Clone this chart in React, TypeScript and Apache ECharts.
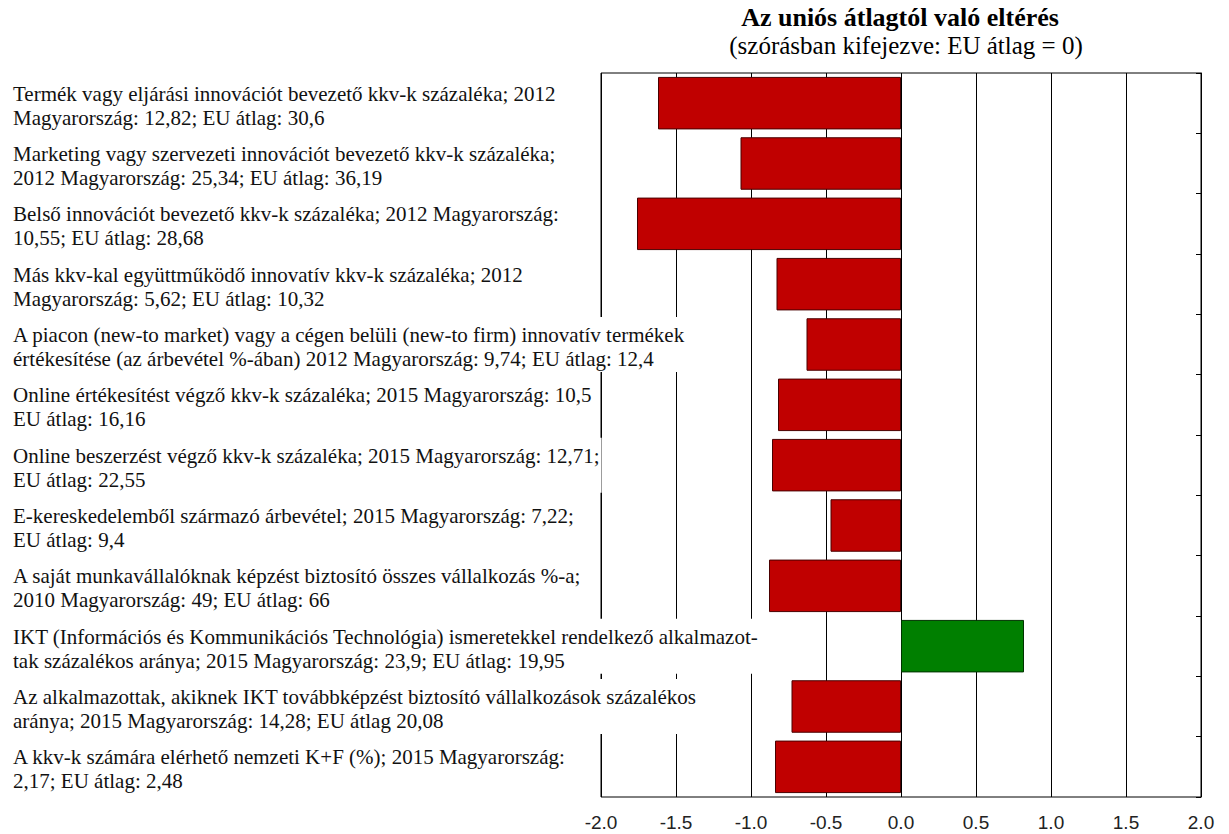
import React, { useEffect, useRef } from "react";
import * as echarts from "echarts";

const titleText = "Az uniós átlagtól való eltérés";
const subtitleText = "(szórásban kifejezve: EU átlag = 0)";

const categories = [
  "Termék vagy eljárási innovációt bevezető kkv-k százaléka; 2012\nMagyarország: 12,82; EU átlag: 30,6",
  "Marketing vagy szervezeti innovációt bevezető kkv-k százaléka;\n2012 Magyarország: 25,34; EU átlag: 36,19",
  "Belső innovációt bevezető kkv-k százaléka; 2012 Magyarország:\n10,55; EU átlag: 28,68",
  "Más kkv-kal együttműködő innovatív kkv-k százaléka; 2012\nMagyarország: 5,62; EU átlag: 10,32",
  "A piacon (new-to market) vagy a cégen belüli (new-to firm) innovatív termékek\nértékesítése (az árbevétel %-ában) 2012 Magyarország: 9,74; EU átlag: 12,4",
  "Online értékesítést végző kkv-k százaléka; 2015 Magyarország: 10,5\nEU átlag: 16,16",
  "Online beszerzést végző kkv-k százaléka; 2015 Magyarország: 12,71;\nEU átlag: 22,55",
  "E-kereskedelemből származó árbevétel; 2015 Magyarország: 7,22;\nEU átlag: 9,4",
  "A saját munkavállalóknak képzést biztosító összes vállalkozás %-a;\n2010 Magyarország: 49; EU átlag: 66",
  "IKT (Információs és Kommunikációs Technológia) ismeretekkel rendelkező alkalmazot-\ntak százalékos aránya; 2015 Magyarország: 23,9; EU átlag: 19,95",
  "Az alkalmazottak, akiknek IKT továbbképzést biztosító vállalkozások százalékos\naránya; 2015 Magyarország: 14,28; EU átlag 20,08",
  "A kkv-k számára elérhető nemzeti K+F (%); 2015 Magyarország:\n2,17; EU átlag: 2,48",
];

const deviations = [-1.62, -1.07, -1.76, -0.83, -0.63, -0.82, -0.86, -0.47, -0.88, 0.82, -0.73, -0.84];

const xMin = -2;
const xMax = 2;
const xStep = 0.5;

const RED = "#c00000";
const RED_BORDER = "#4a0000";
const GREEN = "#007f00";
const GREEN_BORDER = "#003300";
const SERIF = "Liberation Serif";
const SANS = "Liberation Sans";

export default function App() {
  const ref = useRef<HTMLDivElement>(null);

  useEffect(() => {
    const chart = echarts.init(ref.current!, null, { renderer: "svg" });
    chart.setOption({
      animation: false,
      backgroundColor: "#fff",
      title: [
        {
          text: titleText,
          left: 900,
          top: 4,
          textAlign: "center",
          padding: 0,
          textStyle: { fontFamily: SERIF, fontSize: 26, lineHeight: 26, fontWeight: "bold", color: "#000" },
        },
        {
          text: subtitleText,
          left: 906,
          top: 33,
          textAlign: "center",
          padding: 0,
          textStyle: { fontFamily: SERIF, fontSize: 25, lineHeight: 25, fontWeight: "normal", color: "#000" },
        },
      ],
      grid: {
        left: 601,
        right: 28,
        top: 73,
        bottom: 37,
        show: true,
        borderColor: "#000",
        borderWidth: 1,
        backgroundColor: "#fff",
        containLabel: false,
      },
      xAxis: {
        type: "value",
        min: xMin,
        max: xMax,
        interval: xStep,
        axisLine: { show: false },
        axisTick: { show: false },
        splitLine: { show: true, lineStyle: { color: "#000", width: 1 } },
        axisLabel: {
          formatter: (v: number) => v.toFixed(1),
          fontFamily: SANS,
          fontSize: 19,
          color: "#222",
          margin: 16,
        },
      },
      yAxis: [
        {
          type: "category",
          data: categories,
          inverse: true,
          position: "left",
          z: 3,
          axisLine: { show: false },
          axisTick: { show: false },
          splitLine: { show: false },
          axisLabel: {
            interval: 0,
            align: "left",
            margin: 590,
            backgroundColor: "#fff",
            padding: [0, 2, 1, 2],
            formatter: (v: string) =>
              "{pad| }\n" + v.split("\n").map((line) => `{t|${line}}`).join("\n"),
            rich: {
              pad: { fontSize: 1, lineHeight: 6 },
              t: { fontFamily: SERIF, fontSize: 21, lineHeight: 24, color: "#111" },
            },
          },
        },
        {
          type: "category",
          data: categories,
          inverse: true,
          position: "right",
          z: 3,
          axisLine: { show: true, onZero: true, lineStyle: { color: "#000", width: 1 } },
          axisTick: { show: true, inside: true, length: 5, lineStyle: { color: "#000" } },
          axisLabel: { show: false },
          splitLine: { show: false },
        },
      ],
      series: [
        {
          type: "bar",
          yAxisIndex: 0,
          barCategoryGap: "13%",
          data: deviations.map((v) => ({
            value: v,
            itemStyle: {
              color: v >= 0 ? GREEN : RED,
              borderColor: v >= 0 ? GREEN_BORDER : RED_BORDER,
              borderWidth: 1,
            },
          })),
        },
      ],
    });
    return () => chart.dispose();
  }, []);

  return <div ref={ref} style={{ position: "fixed", left: 0, top: 0, width: 1229, height: 834 }} />;
}
